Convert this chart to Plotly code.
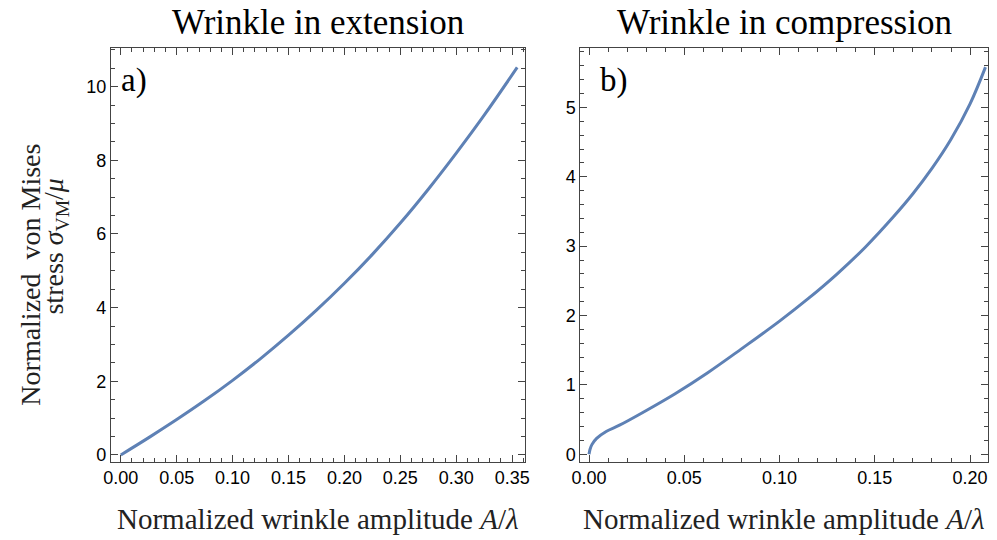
import plotly.graph_objects as go

# Panel a: wrinkle in extension
ext_x = [0, 0.025, 0.05, 0.075, 0.10, 0.125, 0.15, 0.175, 0.20, 0.225, 0.25, 0.275, 0.30, 0.325, 0.3545]
ext_y = [0, 0.47, 0.96, 1.475, 2.025, 2.615, 3.25, 3.93, 4.66, 5.445, 6.295, 7.215, 8.195, 9.225, 10.52]

# Panel b: wrinkle in compression
comp_x = [0, 0.0005, 0.0015, 0.004, 0.009, 0.016, 0.028, 0.045, 0.0625, 0.08, 0.10,
          0.115, 0.13, 0.145, 0.16, 0.17, 0.18, 0.19, 0.20, 0.2081]
comp_y = [0, 0.07, 0.14, 0.23, 0.33, 0.42, 0.60, 0.87, 1.18, 1.52, 1.92,
          2.243, 2.595, 2.985, 3.43, 3.755, 4.12, 4.54, 5.05, 5.58]

titles = ["Wrinkle in extension", "Wrinkle in compression"]
panel_labels = ["a)", "b)"]
x_title = "Normalized wrinkle amplitude <i>A</i>/<i>λ</i>"
y_title_1 = "Normalized  von Mises"
y_title_2 = "stress <i>σ</i><sub>VM</sub>/<i>μ</i>"

LINE = "#5E81B5"
FRAME = "#444444"
SERIF = "Liberation Serif, Times New Roman, serif"
SANS = "Liberation Sans, Arial, sans-serif"

fig = go.Figure()
fig.add_trace(go.Scatter(x=ext_x, y=ext_y, mode="lines",
                         line=dict(color=LINE, width=3, shape="spline", smoothing=1.0),
                         xaxis="x", yaxis="y", showlegend=False))
fig.add_trace(go.Scatter(x=comp_x, y=comp_y, mode="lines",
                         line=dict(color=LINE, width=3, shape="spline", smoothing=1.0),
                         xaxis="x2", yaxis="y2", showlegend=False))

W, H = 997, 540
dom_a = [103.3 / W, 523.3 / W]
dom_b = [579 / W, 991.7 / W]
dom_y = [1 - 465 / H, 1 - 48.3 / H]

def ax(domain, rng, dtick, minor_dtick, fmt, anchor):
    return dict(domain=domain, range=rng, dtick=dtick, tick0=0, tickformat=fmt,
                ticks="inside", ticklen=7, tickwidth=1, tickcolor=FRAME,
                showline=True, linecolor=FRAME, linewidth=1, mirror="allticks",
                showgrid=False, zeroline=False, anchor=anchor,
                tickfont=dict(family=SANS, size=18, color="black"),
                minor=dict(dtick=minor_dtick, ticks="inside", ticklen=4, tickcolor=FRAME, showgrid=False))

fig.update_layout(
    width=W, height=H,
    margin=dict(l=0, r=0, t=0, b=0),
    paper_bgcolor="white", plot_bgcolor="white",
    xaxis=ax(dom_a, [-0.0088, 0.3619], 0.05, 0.01, ".2f", "y"),
    yaxis=ax(dom_y, [-0.18, 11.05], 2, 0.5, "d", "x"),
    xaxis2=ax(dom_b, [-0.0045, 0.2093], 0.05, 0.01, ".2f", "y2"),
    yaxis2=ax(dom_y, [-0.104, 5.857], 1, 0.2, "d", "x2"),
)

annotations = []
for dom, t in zip([dom_a, dom_b], titles):
    annotations.append(dict(text=t, x=(dom[0] + dom[1]) / 2, y=1 - 23 / H, xref="paper", yref="paper",
                            showarrow=False, font=dict(family=SERIF, size=35, color="black"),
                            xanchor="center", yanchor="middle"))
    annotations.append(dict(text=x_title, x=(dom[0] + dom[1]) / 2, y=1 - 523 / H, xref="paper", yref="paper",
                            showarrow=False, font=dict(family=SERIF, size=29, color="#222"),
                            xanchor="center", yanchor="middle"))
for px, lab in zip([111, 597], panel_labels):
    annotations.append(dict(text=lab, x=px / W, y=1 - 81 / H, xref="paper", yref="paper",
                            showarrow=False, font=dict(family=SERIF, size=33, color="black"),
                            xanchor="left", yanchor="middle"))
annotations.append(dict(text=y_title_1, x=22 / W, y=1 - 277 / H, xref="paper", yref="paper",
                        showarrow=False, textangle=-90, font=dict(family=SERIF, size=28, color="#222"),
                        xanchor="center", yanchor="middle"))
annotations.append(dict(text=y_title_2, x=47 / W, y=1 - 248 / H, xref="paper", yref="paper",
                        showarrow=False, textangle=-90, font=dict(family=SERIF, size=28, color="#222"),
                        xanchor="center", yanchor="middle"))
fig.update_layout(annotations=annotations)

fig.write_html("out.html")
